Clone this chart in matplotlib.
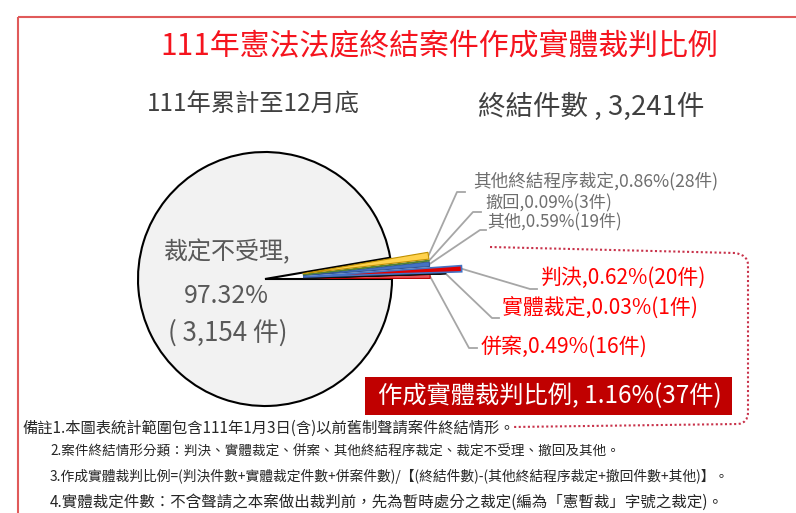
import numpy as np
import matplotlib
matplotlib.use("Agg")
import matplotlib.pyplot as plt
from matplotlib.patches import Rectangle, PathPatch
from matplotlib.path import Path

plt.rcParams['font.family'] = ['Noto Sans CJK TC', 'DejaVu Sans']

# ---------------- data ----------------
categories = ['併案', '實體裁定', '判決', '其他', '撤回', '其他終結程序裁定', '裁定不受理']
counts = [16, 1, 20, 19, 3, 28, 3154]
percents = [0.49, 0.03, 0.62, 0.59, 0.09, 0.86, 97.32]
total_cases = 3241
substantive_pct = 1.16
substantive_n = 37
title = '111年憲法法庭終結案件作成實體裁判比例'
period = '111年累計至12月底'
notes = [
    '備註1.本圖表統計範圍包含111年1月3日(含)以前舊制聲請案件終結情形。',
    '2.案件終結情形分類：判決、實體裁定、併案、其他終結程序裁定、裁定不受理、撤回及其他。',
    '3.作成實體裁判比例=(判決件數+實體裁定件數+併案件數)/【(終結件數)-(其他終結程序裁定+撤回件數+其他)】。',
    '4.實體裁定件數：不含聲請之本案做出裁判前，先為暫時處分之裁定(編為「憲暫裁」字號之裁定)。',
]

# ---------------- style ----------------
face = ['#E8545A', '#111111', '#E00000', '#4472C4', '#548235', '#FFD24D', '#F2F2F2']
edge = ['#C00000', '#111111', '#4472C4', '#2F5597', '#548235', '#BF9000', '#000000']
lw = [0.8, 1.6, 1.2, 0.8, 0.8, 0.8, 1.5]
explode_frac = [0.3, 0.3, 0.3, 0.3, 0.3, 0.3, 0.0]
extra_radius = [1.0, 1.12, 1.25, 1.0, 1.0, 1.0, 1.0]

W, H = 796, 513
fig = plt.figure(figsize=(W / 100, H / 100), dpi=100)
ax = fig.add_axes([0, 0, 1, 1])

cx, cy, R = 265, 279, 127
wedges, _ = ax.pie(counts, colors=face, startangle=0, counterclock=False,
                   center=(cx, cy), radius=R,
                   explode=[f * R for f in explode_frac],
                   wedgeprops=dict(linewidth=1))
for i, w in enumerate(wedges):
    w.set_edgecolor(edge[i])
    w.set_linewidth(lw[i])
    w.set_radius(R * extra_radius[i])
    w.set_zorder(3 if i < 6 else 2)

ax.set_xlim(0, W)
ax.set_ylim(H, 0)
ax.set_aspect('auto')
ax.axis('off')

renderer = fig.canvas.get_renderer()


def fit(t, width):
    bb = t.get_window_extent(renderer)
    t.set_fontsize(t.get_fontsize() * width / bb.width)
    return t


def put(x, y, s, width, ha='left', **kw):
    t = ax.text(x, y, s, ha=ha, va='center', **kw)
    return fit(t, width)

# outer border
ax.add_patch(Rectangle((18, 17), 800, 520, fill=False, edgecolor='#E05A5A', linewidth=1.5, zorder=1))

# title + subtitles
put(439, 47, title, 558, ha='center', color='#F5141E', fontweight='medium', fontsize=20)
put(147, 105, period, 213, color='#404040', fontsize=16)
put(478, 107, f'終結件數 , {total_cases:,}件', 227, color='#404040', fontsize=16)

# main slice label
main_c = '#595959'
put(226, 252, f'{categories[-1]},', 127, ha='center', color=main_c, fontsize=16)
put(226, 296, f'{percents[-1]:.2f}%', 85, ha='center', color=main_c, fontsize=16)
put(228, 333, f'( {counts[-1]:,} 件)', 120, ha='center', color=main_c, fontsize=16)

# leader lines / small slice labels: (elbow x, elbow y, end x, text x, text y, text width, colour)
label_layout = {
    '其他終結程序裁定': (457, 192, 465, 473, 181, 245, '#6E6E6E'),
    '撤回': (473, 212, 481, 485, 203, 127, '#6E6E6E'),
    '其他': (480, 230, 486, 487, 222, 135, '#6E6E6E'),
    '判決': (530, 289, 537, 540, 278, 166, '#FF0000'),
    '實體裁定': (492, 318, 499, 502, 308, 196, '#FF0000'),
    '併案': (469, 348, 477, 481, 347, 167, '#FF0000'),
}
for i in range(6):
    w = wedges[i]
    th = np.deg2rad(0.5 * (w.theta1 + w.theta2))
    tx = w.center[0] + w.r * np.cos(th)
    ty = w.center[1] + w.r * np.sin(th)
    ex, ey, endx, txx, tyy, tw, col = label_layout[categories[i]]
    ax.plot([tx, ex, endx], [ty, ey, ey], color='#A6A6A6', linewidth=1.3, zorder=2)
    put(txx, tyy, f'{categories[i]},{percents[i]:.2f}%({counts[i]}件)', tw, color=col, fontsize=12)

# banner
ax.add_patch(Rectangle((365, 377), 367, 38, facecolor='#C00000', edgecolor='none', zorder=4))
put(378, 396, f'作成實體裁判比例, {substantive_pct:.2f}%({substantive_n}件)', 344,
    color='white', fontsize=16, zorder=5)

# dotted bracket
verts = [(490, 247), (735, 253), (748, 255), (748, 265), (748, 412),
         (748, 423), (738, 424), (512, 427)]
codes = [Path.MOVETO, Path.LINETO, Path.CURVE3, Path.CURVE3, Path.LINETO,
         Path.CURVE3, Path.CURVE3, Path.LINETO]
ax.add_patch(PathPatch(Path(verts, codes), fill=False, edgecolor='#C8324A',
                       linestyle=(0, (1, 1.2)), linewidth=1.5, zorder=3))

# footnotes
note_layout = [(22, 428, 493), (50, 452, 567), (50, 476, 680), (50, 502, 672)]
for s, (x, y, wdt) in zip(notes, note_layout):
    put(x, y, s, wdt, color='#262626', fontsize=10)

fig.savefig('out.png', dpi=100)
